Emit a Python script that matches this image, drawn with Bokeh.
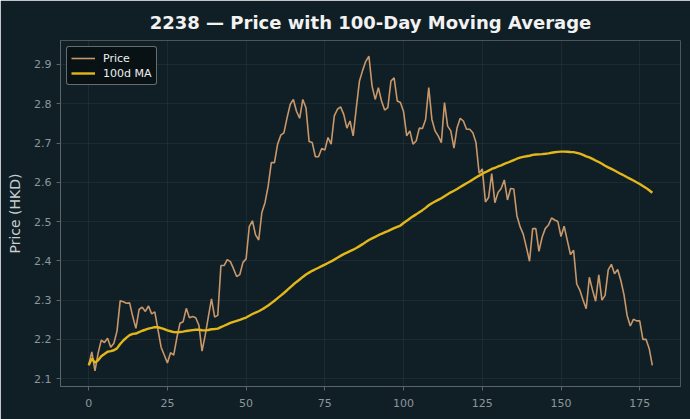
import numpy as np
import pandas as pd
from bokeh.plotting import figure
from bokeh.models import ColumnDataSource, FixedTicker, Range1d, Legend, LegendItem
from bokeh.embed import file_html
from bokeh.resources import INLINE

# Daily closing prices (HKD) for 2238
price = [
    2.134, 2.168, 2.120, 2.165, 2.198, 2.192, 2.203, 2.180, 2.190, 2.221,
    2.298, 2.296, 2.292, 2.293, 2.258, 2.228, 2.276, 2.282, 2.271, 2.285,
    2.265, 2.270, 2.225, 2.180, 2.160, 2.140, 2.166, 2.160, 2.204, 2.241,
    2.245, 2.279, 2.255, 2.258, 2.255, 2.236, 2.170, 2.210, 2.257, 2.303,
    2.257, 2.261, 2.388, 2.388, 2.403, 2.398, 2.380, 2.360, 2.365, 2.396,
    2.405, 2.487, 2.502, 2.466, 2.453, 2.523, 2.548, 2.590, 2.650, 2.650,
    2.697, 2.720, 2.726, 2.764, 2.798, 2.811, 2.781, 2.763, 2.811, 2.790,
    2.704, 2.701, 2.665, 2.665, 2.686, 2.682, 2.714, 2.697, 2.769, 2.786,
    2.792, 2.773, 2.738, 2.756, 2.718, 2.790, 2.858, 2.885, 2.908, 2.921,
    2.845, 2.811, 2.841, 2.807, 2.784, 2.790, 2.858, 2.866, 2.807, 2.803,
    2.780, 2.718, 2.731, 2.697, 2.705, 2.738, 2.737, 2.760, 2.841, 2.760,
    2.731, 2.718, 2.701, 2.803, 2.743, 2.731, 2.687, 2.739, 2.763, 2.756,
    2.735, 2.735, 2.726, 2.701, 2.623, 2.634, 2.550, 2.561, 2.622, 2.548,
    2.574, 2.584, 2.606, 2.555, 2.584, 2.583, 2.515, 2.487, 2.468, 2.435,
    2.399, 2.482, 2.482, 2.424, 2.460, 2.482, 2.491, 2.509, 2.504, 2.500,
    2.462, 2.488, 2.452, 2.416, 2.427, 2.341, 2.325, 2.300, 2.278, 2.358,
    2.326, 2.297, 2.364, 2.300, 2.312, 2.377, 2.391, 2.367, 2.378, 2.350,
    2.314, 2.261, 2.234, 2.251, 2.247, 2.247, 2.200, 2.200, 2.177, 2.134,
]
day = list(range(len(price)))

x_ticks = [0, 25, 50, 75, 100, 125, 150, 175]
y_ticks = [2.1, 2.2, 2.3, 2.4, 2.5, 2.6, 2.7, 2.8, 2.9]

# 100-day moving average (uses whatever history is available at the start)
ma100 = pd.Series(price).rolling(100, min_periods=1).mean().tolist()

src = ColumnDataSource(dict(day=day, price=price, ma=ma100))

BG = "#101f26"
TICK = "#8c979b"
SPINE = "#59656a"

# axis ranges padded 5% around the data
xpad = (max(day) - min(day)) * 0.05
ylo, yhi = min(price), max(price)
ypad = (yhi - ylo) * 0.05

p = figure(
    width=690, height=419,
    output_backend="svg", toolbar_location=None,
    x_range=Range1d(min(day) - xpad, max(day) + xpad),
    y_range=Range1d(ylo - ypad, yhi + ypad),
    title="2238 — Price with 100-Day Moving Average",
    min_border_left=60, min_border_right=10,
    min_border_top=40, min_border_bottom=33,
)
p.background_fill_color = BG
p.border_fill_color = BG
p.outline_line_color = None

p.title.align = "center"
p.title.text_color = "#f2f2f2"
p.title.text_font = "DejaVu Sans"
p.title.text_font_size = "18px"
p.title.text_font_style = "bold"
p.title.offset = 0
p.title.standoff = 16

for ax in (p.xaxis[0], p.yaxis[0]):
    ax.axis_line_color = SPINE
    ax.major_tick_line_color = SPINE
    ax.major_tick_out = 4
    ax.major_tick_in = 0
    ax.minor_tick_line_color = None
    ax.major_label_text_color = TICK
    ax.major_label_text_font = "DejaVu Sans"
    ax.major_label_text_font_size = "11px"
    ax.major_label_standoff = 5
p.xaxis.major_label_standoff = 8

p.xaxis.ticker = FixedTicker(ticks=x_ticks)
p.yaxis.ticker = FixedTicker(ticks=y_ticks)
p.yaxis.axis_label = "Price (HKD)"
p.yaxis.axis_label_text_color = "#c9cfd1"
p.yaxis.axis_label_text_font = "DejaVu Sans"
p.yaxis.axis_label_text_font_size = "14px"
p.yaxis.axis_label_text_font_style = "normal"
p.yaxis.axis_label_standoff = 8

p.xgrid.ticker = FixedTicker(ticks=x_ticks)
p.ygrid.ticker = FixedTicker(ticks=y_ticks)
p.grid.grid_line_color = "#ffffff"
p.grid.grid_line_alpha = 0.05

r_price = p.line("day", "price", source=src, line_color="#c8976a", line_width=1.6)
r_ma = p.line("day", "ma", source=src, line_color="#e3b719", line_width=2.4)

legend = Legend(
    items=[LegendItem(label="Price", renderers=[r_price]),
           LegendItem(label="100d MA", renderers=[r_ma])],
    location="top_left",
    margin=6, padding=4, spacing=1,
    glyph_width=24, glyph_height=14, label_height=14, label_standoff=8,
    label_text_font="DejaVu Sans", label_text_font_size="11px",
    label_text_color="#eeeeee",
    background_fill_color="#081114", background_fill_alpha=0.9,
    border_line_color="#c8c8c8", border_line_width=1,
    border_radius=3,
)
p.add_layout(legend)

open("out.html", "w").write(file_html(p, INLINE))
